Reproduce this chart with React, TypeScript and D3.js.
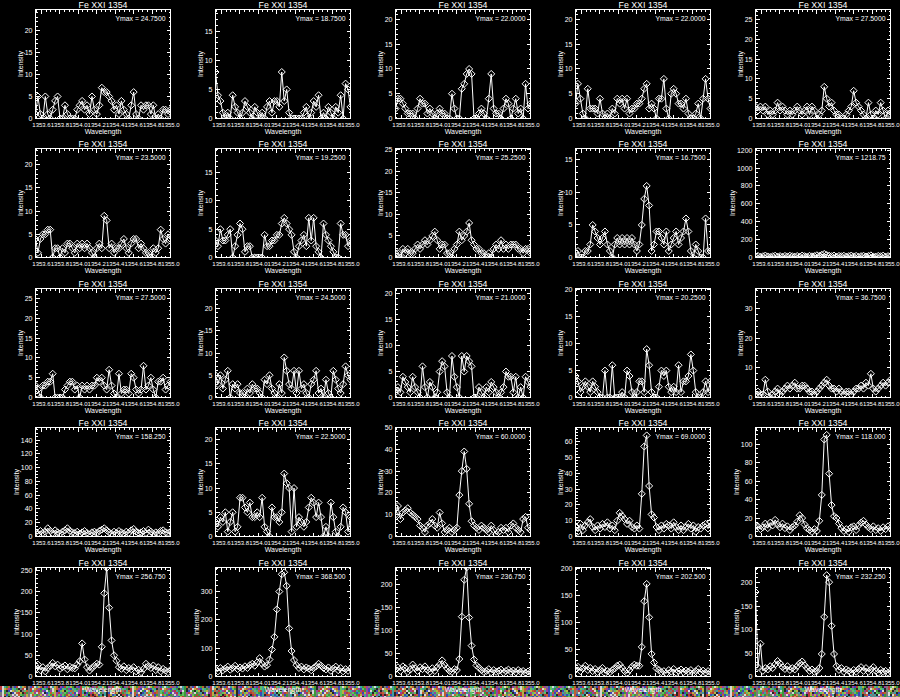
import { useEffect } from "react";
import * as d3 from "d3";

// wavelength grid (Angstrom) shared by every spectrum
const wavelengthStart = 1353.535;
const wavelengthEnd = 1355.0;
const nPoints = 56;
const wavelengths = d3
  .range(nPoints)
  .map((i) => wavelengthStart + (i * (wavelengthEnd - wavelengthStart)) / (nPoints - 1));
const xTicks = [1353.6, 1353.8, 1354.0, 1354.2, 1354.4, 1354.6, 1354.8, 1355.0];

const ymaxLabels = [
  "24.7500", "18.7500", "22.0000", "22.0000", "27.5000",
  "23.5000", "19.2500", "25.2500", "16.7500", "1218.75",
  "27.5000", "24.5000", "21.0000", "20.2500", "36.7500",
  "158.250", "22.5000", "60.0000", "69.0000", "118.000",
  "256.750", "368.500", "236.750", "202.500", "232.250",
];
const yTop = [
  24.75, 18.75, 22, 22, 27.5,
  23.5, 19.25, 25.25, 16.75, 1218.75,
  27.5, 24.5, 21, 20.25, 36.75,
  158.25, 22.5, 50, 69, 118,
  256.75, 385, 236.75, 202.5, 232.25,
];
const yStep = [
  5, 5, 5, 5, 5,
  5, 5, 5, 5, 200,
  5, 5, 5, 5, 10,
  20, 5, 10, 10, 20,
  50, 100, 50, 50, 50,
];

const p01 = [1,5,1,0,5,1,0,2,4,5, 0,0,3,1,0,0,0,2,3,4, 2,3,1,5,2,1,3,7,6,6, 5,4,2,3,1,4,2,1,0,3, 6,1,0,3,2,3,3,1,3,0, 1,0,2,2,1,2];
const p02 = [8,4,3,1,0,1,0,4,2,1, 0,1,3,2,1,0,2,1,0,1, 0,2,3,1,3,3,2,8,3,5, 1,0,0,0,0,0,1,2,0,1, 3,2,4,0,1,0,2,1,0,2, 1,4,0,6,5,2];
const p03 = [2,4,4,3,2,1,1,1,0,2, 4,3,3,1,2,1,0,1,2,1, 1,0,0,5,2,0,0,6,7,9, 10,9,0,0,1,2,1,0,4,9, 2,1,1,0,2,4,3,0,2,4, 1,2,0,7,2,3];
const p04 = [3,7,4,1,0,6,2,2,2,1, 4,1,0,1,0,2,1,4,3,4, 2,4,1,2,2,3,3,4,6,7, 2,3,2,0,4,4,8,2,0,5, 6,5,3,3,2,4,1,0,0,1, 3,0,4,8,4,2];
const p05 = [3,2,3,2,3,1,2,1,2,4, 2,3,2,1,2,1,2,3,2,1, 2,3,1,3,2,0,1,2,8,5, 3,4,2,1,1,0,0,1,2,3, 7,4,3,2,1,0,4,1,0,2, 1,4,2,0,2,1];
const p06 = [4,1,4,5,5,6,6,0,2,2, 0,2,1,3,3,2,1,3,2,3, 2,3,2,1,0,2,3,2,9,8, 2,3,1,2,2,3,4,2,1,3, 4,4,2,3,2,1,1,0,2,1, 2,6,4,3,5,4];
const p07 = [3,2,5,3,3,4,5,0,2,4, 6,5,1,2,2,0,0,0,0,0, 4,2,2,3,3,4,4,6,7,6, 5,4,1,0,2,3,4,2,7,3, 7,2,1,0,6,4,3,2,1,0, 0,6,4,4,2,3];
const p08 = [1,1,0,2,1,2,1,1,2,3, 2,3,4,3,4,5,6,4,2,3, 3,1,1,0,2,3,6,4,5,6, 8,4,3,2,2,1,1,0,1,0, 2,3,2,4,2,3,2,3,3,3, 2,2,1,2,2,1];
const p09 = [0,1,0,0,1,1,2,5,4,3, 2,3,4,2,1,0,2,3,2,3, 2,3,2,3,2,1,2,5,9,11, 8,1,2,4,4,3,2,4,1,2, 3,4,2,3,4,6,4,1,0,2, 1,0,0,6,1,1];
const p10 = [10,18,8,15,22,12,6,14,20,10, 16,8,18,12,20,14,9,17,11,22, 15,8,19,13,16,25,18,30,40,28, 20,15,22,10,18,14,20,9,16,22, 12,18,8,15,20,11,17,24,12,9, 18,14,21,10,16,12];
const p11 = [3,2,0,3,3,4,4,6,0,0, 0,0,2,3,4,4,2,3,0,3, 2,3,2,3,3,5,4,5,3,2, 7,3,1,0,6,1,2,2,1,6, 5,2,1,2,8,2,3,5,2,0, 4,4,5,2,3,4];
const p12 = [5,3,5,2,4,6,0,3,2,3, 1,1,0,2,1,3,2,2,1,0, 4,3,5,2,1,0,3,1,9,6, 3,2,6,1,6,2,3,1,0,3, 4,6,1,2,0,4,1,0,6,4, 2,1,3,7,5,4];
const p13 = [1,2,1,4,3,2,1,4,2,1, 0,6,2,0,3,2,0,1,5,7, 6,1,0,8,4,2,0,8,5,8, 7,6,0,0,2,1,0,2,1,3, 2,1,0,1,2,5,4,4,1,4, 0,2,0,4,3,2];
const p14 = [4,3,1,2,3,2,1,3,2,1, 0,0,5,0,0,6,0,0,0,1, 0,5,4,1,0,1,3,3,1,9, 6,1,0,0,2,5,4,5,2,1, 2,1,6,1,3,3,4,8,5,1, 0,0,1,3,1,3];
const p15 = [1,2,1,1,6,2,0,1,2,3, 1,2,3,4,3,4,5,3,3,4, 4,3,2,2,1,2,3,4,5,6, 4,3,3,2,3,2,1,2,2,1, 2,3,3,4,3,5,4,8,3,2, 3,4,5,4,5,6];
const p16 = [6,4,8,5,7,12,8,5,9,6, 4,7,9,12,8,6,5,7,4,6, 8,5,3,6,7,5,8,10,12,9, 6,4,7,5,8,6,4,7,5,9, 11,7,5,6,8,5,10,7,4,6, 5,8,9,6,5,7];
const p17 = [3,2,4,3,5,1,3,5,1,2, 8,8,6,5,7,4,4,5,4,8, 2,1,0,6,4,4,3,5,13,11, 10,1,10,2,4,3,2,3,6,8, 7,4,7,4,0,2,0,7,4,1, 0,2,6,5,1,4];
const p18 = [10,14,8,11,12,13,11,10,9,8, 5,4,2,5,6,8,5,4,11,6, 2,3,4,2,3,4,19,30,39,31, 15,7,5,4,3,5,4,3,2,5, 3,1,2,4,3,4,2,5,6,4, 3,2,8,9,4,3];
const p19 = [6,3,8,4,7,9,11,6,4,7, 5,8,6,9,5,7,4,10,15,13, 11,8,10,6,5,7,5,27,57,64, 32,14,12,6,4,7,5,8,7,5, 9,6,4,7,4,6,8,5,7,3, 6,5,7,8,5,9];
const p20 = [12,11,8,10,14,9,15,12,18,13, 10,14,9,11,7,10,12,16,23,20, 13,9,7,5,8,6,17,45,105,110, 68,34,22,20,14,9,6,8,5,10, 11,7,12,15,17,13,10,8,11,7, 9,6,10,8,11,9];
const p21 = [18,28,15,22,12,20,25,32,24,28, 18,22,26,17,23,20,19,28,36,78, 40,22,14,20,25,30,28,70,196,256, 162,85,50,37,22,18,24,15,20,17, 22,12,16,10,18,30,24,20,26,15, 22,12,18,14,10,16];
const p22 = [25,18,30,22,28,35,24,30,38,26, 32,28,36,30,40,45,38,50,65,45, 35,40,60,95,140,237,300,361,368,320, 170,90,58,40,30,35,25,32,28,22, 30,36,45,38,30,25,32,20,28,35, 22,30,18,26,20,28];
const p23 = [15,20,12,22,18,10,15,26,18,12, 20,16,22,14,10,18,12,20,26,35, 25,18,12,10,16,14,38,130,210,237, 128,67,37,24,19,14,10,12,16,9, 14,10,12,15,8,12,15,10,13,9, 14,10,12,8,11,9];
const p24 = [12,18,10,15,20,12,16,10,14,8, 12,16,6,10,8,12,15,20,22,16, 10,6,12,18,22,20,20,55,140,172, 110,42,26,15,12,8,10,6,12,9, 14,7,10,13,8,11,9,12,6,10, 14,8,11,7,10,8];
const p25 = [180,20,70,12,18,15,22,18,26,33, 28,20,16,22,14,18,15,22,28,32, 24,18,12,15,10,12,18,48,127,216, 201,108,48,22,14,18,10,15,12,8, 14,10,16,20,12,18,10,15,20,12, 8,14,10,12,8,11];

const spectra = [
  p01, p02, p03, p04, p05, p06, p07, p08, p09, p10, p11, p12, p13,
  p14, p15, p16, p17, p18, p19, p20, p21, p22, p23, p24, p25,
];

const W = 900;
const H = 697;
const FONT = "'Liberation Sans', Arial, sans-serif";
const stripColors = ["#b83a3a", "#3a9a3a", "#3a48b8", "#b8b040", "#7a7a7a", "#40a0a0", "#9a40a0", "#d8d8d8", "#262626", "#60c060", "#c06030"];

function Panel({ index }: { index: number }) {
  const col = index % 5;
  const row = Math.floor(index / 5);
  const ox = col * 180;
  const oy = Math.round(row * 139.4);
  const L = 35.5, R = 170.5, T = 9.5, B = 118.5;

  const x = d3.scaleLinear().domain([wavelengthStart, wavelengthEnd]).range([L, R]);
  const y = d3.scaleLinear().domain([0, yTop[index]]).range([B, T]);
  const values = spectra[index];
  const pts: [number, number][] = values.map((v, i) => [x(wavelengths[i]), y(v)]);
  const linePath = d3.line()(pts) || "";

  const step = yStep[index];
  const majorY = d3.range(0, yTop[index] + 1e-9, step);
  const minorN = String(step)[0] === "2" ? 4 : 5;
  const minorY = d3
    .range(0, Math.floor((yTop[index] * minorN) / step) + 1)
    .filter((k) => k % minorN !== 0)
    .map((k) => (k * step) / minorN);
  const minorX: number[] = [];
  for (let k = Math.ceil(wavelengthStart / 0.05); k * 0.05 <= wavelengthEnd + 1e-9; k++) {
    if (k % 4 !== 0) minorX.push(k * 0.05);
  }
  const maxLen = d3.max(majorY, (v) => String(v).length) || 1;
  const yLabelX = L - 3 - maxLen * 4 - 2;
  const clipId = `clip${index}`;

  return (
    <g transform={`translate(${ox},${oy})`}>
      <clipPath id={clipId}>
        <rect x={L} y={T} width={R - L} height={B - T} />
      </clipPath>
      <text x={(L + R) / 2} y={7.5} fill="#fff" fontSize={9.5} textAnchor="middle" textLength={49} lengthAdjust="spacingAndGlyphs" fontFamily={FONT}>
        Fe XXI 1354
      </text>
      <g stroke="#fff" strokeWidth={1} shapeRendering="crispEdges">
        <rect x={L} y={T} width={R - L} height={B - T} fill="none" />
        {xTicks.map((t) => (
          <g key={`mx${t}`}>
            <line x1={x(t)} x2={x(t)} y1={B} y2={B - 4} />
            <line x1={x(t)} x2={x(t)} y1={T} y2={T + 4} />
          </g>
        ))}
        {minorX.map((t) => (
          <g key={`nx${t}`}>
            <line x1={x(t)} x2={x(t)} y1={B} y2={B - 2} />
            <line x1={x(t)} x2={x(t)} y1={T} y2={T + 2} />
          </g>
        ))}
        {majorY.map((t) => (
          <g key={`my${t}`}>
            <line x1={L} x2={L + 4} y1={y(t)} y2={y(t)} />
            <line x1={R} x2={R - 4} y1={y(t)} y2={y(t)} />
          </g>
        ))}
        {minorY.map((t) => (
          <g key={`ny${t}`}>
            <line x1={L} x2={L + 2} y1={y(t)} y2={y(t)} />
            <line x1={R} x2={R - 2} y1={y(t)} y2={y(t)} />
          </g>
        ))}
      </g>
      <g fill="#fff" fontSize={7} fontFamily={FONT}>
        {xTicks.map((t) => (
          <text key={`lx${t}`} x={x(t)} y={B + 8.8} textAnchor="middle" fontSize={6}>
            {d3.format(".1f")(t)}
          </text>
        ))}
        {majorY.map((t) => (
          <text key={`ly${t}`} x={L - 3} y={y(t) + 2.5} textAnchor="end">
            {String(t)}
          </text>
        ))}
        <text x={(L + R) / 2} y={B + 15} textAnchor="middle">
          Wavelength
        </text>
        <text transform={`translate(${yLabelX},${(T + B) / 2}) rotate(-90)`} textAnchor="middle">
          Intensity
        </text>
        <text x={R - 5} y={T + 11} textAnchor="end" textLength={50} lengthAdjust="spacingAndGlyphs">
          {`Ymax = ${ymaxLabels[index]}`}
        </text>
      </g>
      <g clipPath={`url(#${clipId})`} stroke="#fff" strokeWidth={1} fill="none">
        <path d={linePath} />
        {pts.map(([px, py], i) => (
          <path key={i} d={`M${px},${py - 3.5}L${px + 3.5},${py}L${px},${py + 3.5}L${px - 3.5},${py}Z`} />
        ))}
      </g>
    </g>
  );
}

export default function App() {
  useEffect(() => {
    document.body.style.margin = "0";
    document.body.style.background = "#000";
  }, []);

  // noisy colour strip along the bottom edge
  const strip: { x: number; y: number; c: string }[] = [];
  for (let i = 0; i < W / 2; i++) {
    for (let j = 0; j < 6; j++) {
      const h = (i * 7919 + j * 104729 + ((i * j) % 13) * 31) % 97;
      strip.push({ x: i * 2, y: 686 + j * 2, c: stripColors[h % stripColors.length] });
    }
  }

  return (
    <svg width={W} height={H} style={{ display: "block", background: "#000" }}>
      <rect width={W} height={H} fill="#000" />
      <g shapeRendering="crispEdges">
        {strip.map((s, k) => (
          <rect key={k} x={s.x} y={s.y} width={2} height={2} fill={s.c} />
        ))}
      </g>
      {spectra.map((_, i) => (
        <Panel key={i} index={i} />
      ))}
    </svg>
  );
}
